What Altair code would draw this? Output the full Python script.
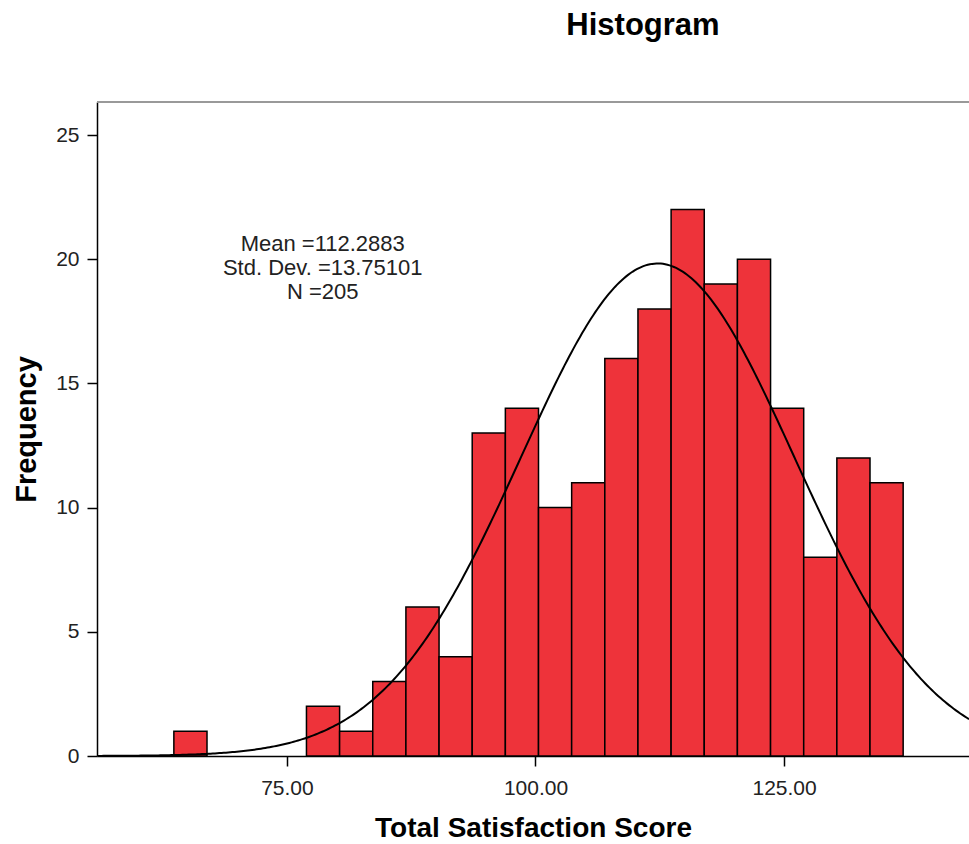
import altair as alt
import pandas as pd
import numpy as np

# Histogram data
bin_start = 63.63
bin_width = 3.334
counts = [1, 0, 0, 0, 2, 1, 3, 6, 4, 13, 14, 10, 11, 16, 18, 22, 19, 20, 14, 8, 12, 11]

mean = 112.2883
std = 13.75101
n = 205

stats_lines = ["Mean =112.2883", "Std. Dev. =13.75101", "N =205"]

x_min, x_max = 55.9, 143.6
y_max = 26.33

bars = pd.DataFrame({
    "lo": [bin_start + i * bin_width for i in range(len(counts))],
    "hi": [bin_start + (i + 1) * bin_width for i in range(len(counts))],
    "count": counts,
})
bars = bars[bars["count"] > 0]

xs = np.linspace(x_min, x_max, 400)
curve = pd.DataFrame({
    "x": xs,
    "y": n * bin_width / (std * np.sqrt(2 * np.pi)) * np.exp(-0.5 * ((xs - mean) / std) ** 2),
})

FONT = "Liberation Sans"

xscale = alt.Scale(domain=[x_min, x_max], nice=False, zero=False)
yscale = alt.Scale(domain=[0, y_max], nice=False)

bar_layer = alt.Chart(bars).mark_rect(
    fill="#EE333A", stroke="black", strokeWidth=1.5
).encode(
    x=alt.X("lo:Q", scale=xscale,
            axis=alt.Axis(values=[75, 100, 125], format=".2f", title="Total Satisfaction Score",
                          grid=False, domainColor="black", domainWidth=1.5,
                          tickColor="black", tickWidth=1.5, tickSize=10,
                          labelFont=FONT, labelFontSize=21, labelColor="#222",
                          labelPadding=11,
                          titleFont=FONT, titleFontSize=28, titleFontWeight="bold",
                          titleColor="black", titlePadding=16)),
    x2="hi:Q",
    y=alt.Y("count:Q", scale=yscale,
            axis=alt.Axis(values=[0, 5, 10, 15, 20, 25], title="Frequency",
                          grid=False, domainColor="black", domainWidth=1.5,
                          tickColor="black", tickWidth=1.5, tickSize=10,
                          labelFont=FONT, labelFontSize=21, labelColor="#222",
                          labelPadding=8,
                          titleFont=FONT, titleFontSize=29, titleFontWeight="bold",
                          titleColor="black", titlePadding=14)),
    y2=alt.datum(0),
)

curve_layer = alt.Chart(curve).mark_line(color="black", strokeWidth=2, clip=True).encode(
    x=alt.X("x:Q", scale=xscale),
    y=alt.Y("y:Q", scale=yscale),
)

stats_df = pd.DataFrame({
    "text": stats_lines,
    "x": [78.6] * 3,
    "y": [20.61, 19.64, 18.68],
})
stats_layer = alt.Chart(stats_df).mark_text(
    font=FONT, fontSize=22, color="#222", align="center", baseline="middle"
).encode(
    x=alt.X("x:Q", scale=xscale),
    y=alt.Y("y:Q", scale=yscale),
    text="text:N",
)

top_border = alt.Chart(pd.DataFrame({"y": [y_max]})).mark_rule(
    color="#999", strokeWidth=2
).encode(y=alt.Y("y:Q", scale=yscale))

title_layer = alt.Chart(pd.DataFrame({"t": ["Histogram"]})).mark_text(
    font=FONT, fontSize=31, fontWeight="bold", color="black",
    align="center", baseline="middle"
).encode(
    text="t:N",
    x=alt.value(546),
    y=alt.value(-76),
)

chart = alt.layer(bar_layer, curve_layer, stats_layer, top_border, title_layer).properties(
    width=872,
    height=654,
    autosize=alt.AutoSizeParams(type="none"),
    padding={"left": 97, "top": 102, "right": 0, "bottom": 88},
).configure_view(stroke=None).configure(background="white")

chart.save("out.html", embed_options={"renderer": "svg", "actions": False})
